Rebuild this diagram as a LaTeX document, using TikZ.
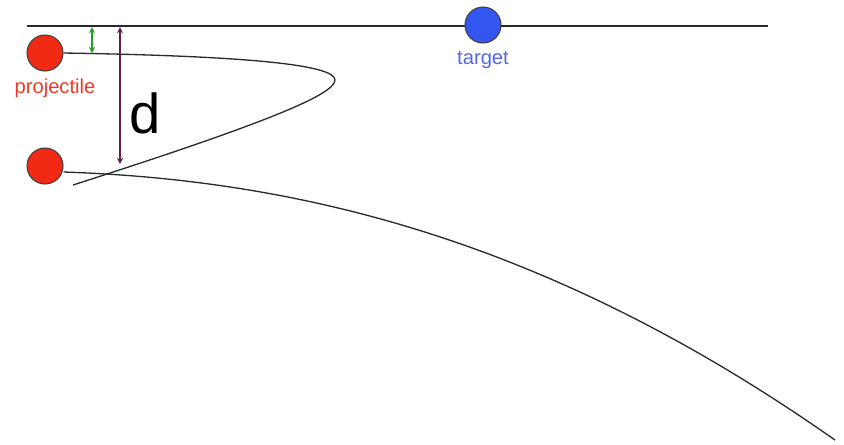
\documentclass[tikz,border=0pt]{standalone}
\usepackage{fontspec}
\setmainfont{Liberation Sans}
\setsansfont{Liberation Sans}
\usepackage{tikz}
\usetikzlibrary{positioning,arrows,calc}
\definecolor{ink}     {HTML}{2A2A2A}
\definecolor{ballred} {HTML}{F22A14}
\definecolor{ballblue}{HTML}{3355F0}
\definecolor{lblred}  {HTML}{EE3A2A}
\definecolor{lblblue} {HTML}{5566E6}
\definecolor{gapgreen}{HTML}{22A022}
\definecolor{gapplum} {HTML}{5E1F4E}
\tikzset{
  >=stealth,
  every node/.style={font=\sffamily},
  % --- nodes
  ball/.style  = {circle, draw=ink!90, line width=0.6pt, minimum size=0.72cm, inner sep=0pt},
  shot/.style  = {ball, fill=ballred},
  goal/.style  = {ball, fill=ballblue},
  tag/.style   = {font=\fontsize{11.5}{13}\selectfont\sffamily},
  % --- edges
  path/.style  = {draw=ink, line width=0.75pt},
  gap/.style   = {stealth-stealth, line width=0.6pt},
}
\begin{document}
\begin{tikzpicture}[x=0.02cm,y=-0.02cm]
  \useasboundingbox (0,0) rectangle (844,444);
  % horizon
  \coordinate (l0) at (27,26);
  \coordinate (l1) at (768,26);
  \draw[path] (l0)--(l1);
  \node[goal] (tg) at (483,25) {};
  \node[tag,text=lblblue,below=1pt of tg] (tgl) {target};
  % projectiles
  \node[shot] (p1) at (45,53) {};
  \node[tag,text=lblred] (pl) at (55,88) {projectile};
  \node[shot] (p2) at (45,166) {};
  % trajectories
  \coordinate (apex) at (335,80);
  \coordinate (tail) at (73,185);
  \coordinate (far) at (835,440);
  \draw[path] (p1.east) .. controls (250,56) and (335,65) .. (apex)
                        .. controls (335,95) and (260,125) .. (tail);
  \draw[path] ($(p2.east)+(0,6)$) .. controls (300,180) and (550,240) .. (far);
  % offsets
  \coordinate (g0) at (92,27);
  \coordinate (g1) at (92,53);
  \coordinate (d0) at (120,27);
  \coordinate (d1) at (120,164);
  \draw[gap,draw=gapgreen] (g0)--(g1);
  \draw[gap,draw=gapplum] (d0)--(d1);
  \node[font=\fontsize{32}{36}\selectfont\sffamily] (dl) at (145,113) {d};
\end{tikzpicture}
\end{document}
